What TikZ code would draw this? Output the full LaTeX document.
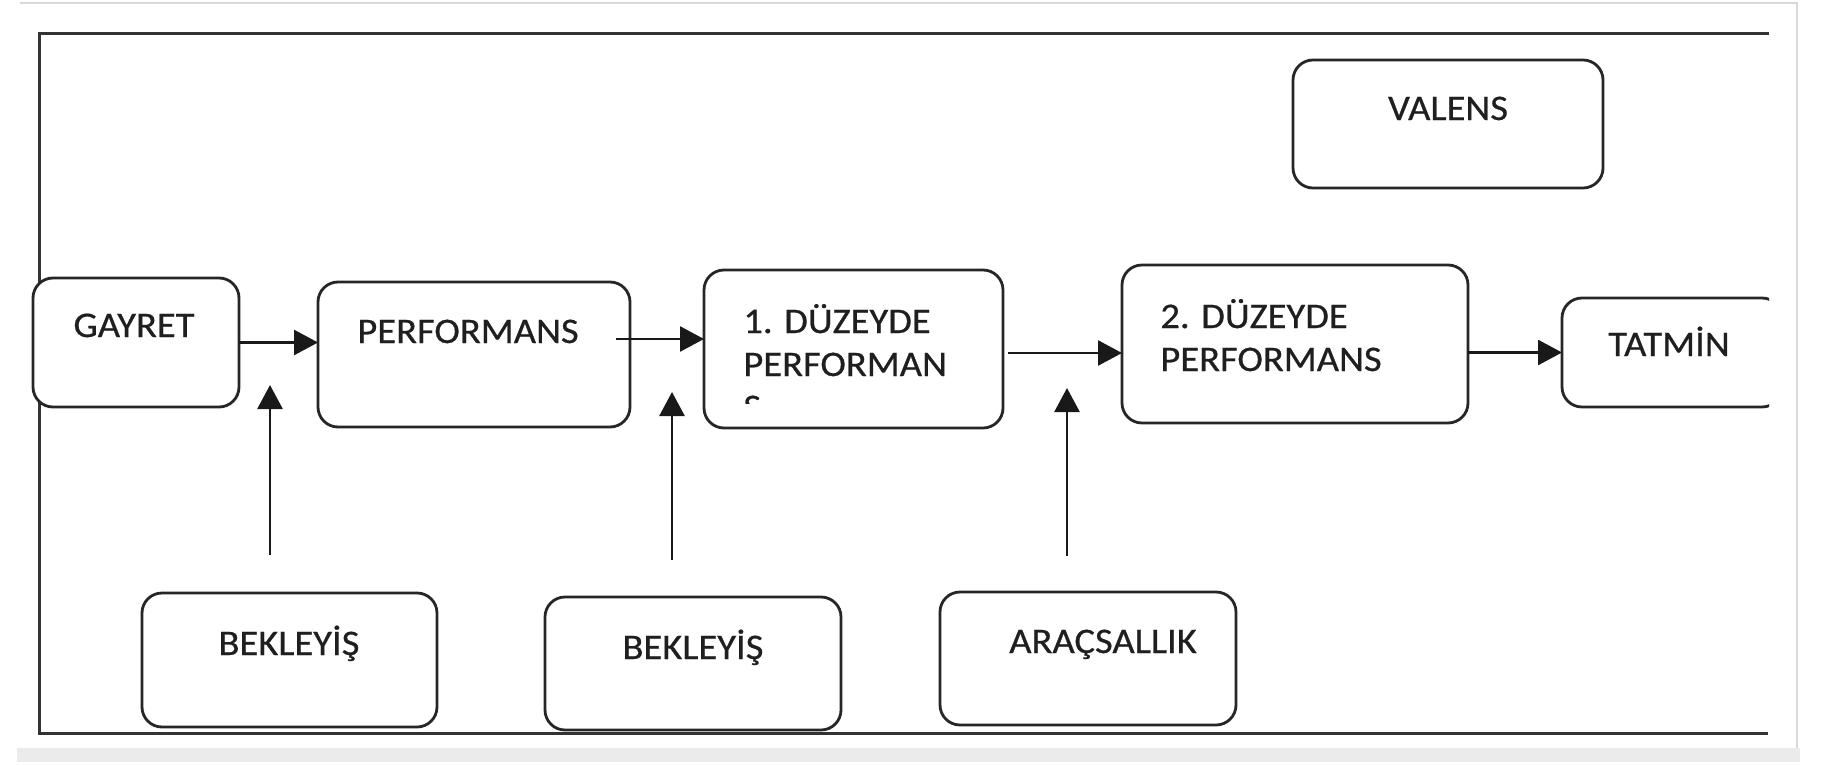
\documentclass[tikz,border=0pt]{standalone}
\usepackage{fontspec}
\setmainfont{Carlito}
\newfontfamily\dfont{Carlito}[FakeStretch=1.07,FakeBold=0.6]
\usetikzlibrary{arrows.meta}
\begin{document}
\begin{tikzpicture}[x=0.5pt,y=-0.5pt,
  box/.style={draw=black!85, line width=1.4pt, rounded corners=10pt, inner sep=0pt, outer sep=0pt, fill=white},
  lbl/.style={inner sep=0pt, anchor=base, font=\dfont\fontsize{18}{20}\selectfont, text=black!88},
  lbll/.style={lbl, anchor=base west},
  flow/.style={draw=black!90, line width=1.3pt, -{Triangle[length=12pt,width=12.5pt]}},
  framel/.style={draw=black!80, line width=1.5pt},
  chrome/.style={draw=black!15, line width=1pt}]
\useasboundingbox (0,0) rectangle (1825,765);
% screenshot chrome
\fill[black!8] (17,748) rectangle (1800,762);
\draw[chrome] (20,3) -- (1797,3) -- (1797,748);
% outer frame (open on the right)
\draw[framel] (1769,34) -- (39,34) -- (39,733) -- (1768,733);
% boxes
\node[box, minimum width=103pt, minimum height=64.5pt] (gayret) at (136,342.5) {};
\node[box, minimum width=156pt, minimum height=72.5pt] (perf) at (474,354.5) {};
\node[box, minimum width=149.5pt, minimum height=79pt] (duz1) at (853.5,349) {};
\node[box, minimum width=173pt, minimum height=79pt] (duz2) at (1295,344) {};
\begin{scope}
  \clip (1500,250) rectangle (1769,450);
  \node[box, minimum width=110pt, minimum height=54.5pt] (tatmin) at (1672,352.5) {};
\end{scope}
\node[box, minimum width=155pt, minimum height=64pt] (valens) at (1448,124) {};
\node[box, minimum width=147.5pt, minimum height=67pt] (bek1) at (289.5,660) {};
\node[box, minimum width=148pt, minimum height=66.5pt] (bek2) at (693,663.5) {};
\node[box, minimum width=148pt, minimum height=66.5pt] (arac) at (1088,658.5) {};
% texts
\node[lbl] (gayretT) at (134,337) {GAYRET};
\node[lbl] (perfT) at (468,343) {PERFORMANS};
\node[lbll] (duz1a) at (743,333) {1. DÜZEYDE};
\node[lbll] (duz1b) at (743,376) {PERFORMAN};
\begin{scope}
  \clip (700,390) rectangle (1000,403);
  \node[lbll] (duz1c) at (743,419) {S};
\end{scope}
\node[lbll] (duz2a) at (1160,328) {2. DÜZEYDE};
\node[lbll] (duz2b) at (1160,371) {PERFORMANS};
\node[lbl] (tatminT) at (1669,356) {TATMİN};
\node[lbl] (valensT) at (1448,120) {VALENS};
\node[lbl] (bek1T) at (289,655) {BEKLEYİŞ};
\node[lbl] (bek2T) at (693,659) {BEKLEYİŞ};
\node[lbl] (aracT) at (1103,653) {ARAÇSALLIK};
% horizontal flow arrows
\draw[flow] (gayret.east) -- (perf.west |- gayret.east);
\coordinate (a2) at (616,339);
\draw[flow] (a2) -- (duz1.west |- a2);
\path (duz1.east) ++(5,4) coordinate (a3);
\draw[flow] (a3) -- (a3 -| duz2.west);
\draw[flow] (duz2.east |- tatmin.west) -- (tatmin.west);
% vertical arrows
\coordinate (u1s) at (270,555); \coordinate (u1e) at (270,385);
\coordinate (u2s) at (672,560); \coordinate (u2e) at (672,392);
\coordinate (u3s) at (1067,556); \coordinate (u3e) at (1067,388);
\draw[flow] (u1s) -- (u1e);
\draw[flow] (u2s) -- (u2e);
\draw[flow] (u3s) -- (u3e);
\end{tikzpicture}
\end{document}
